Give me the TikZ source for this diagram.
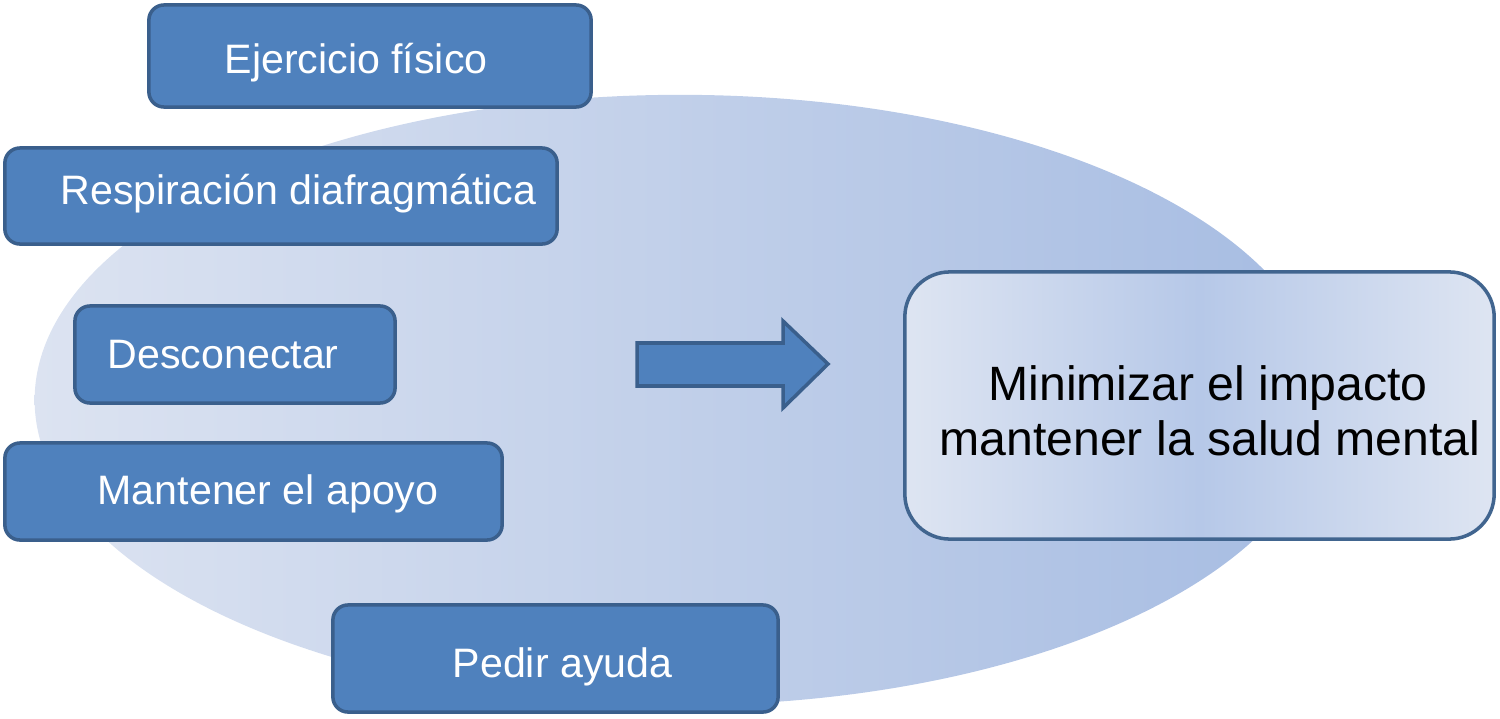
\documentclass[tikz,border=0pt]{standalone}
\usepackage{fontspec}
\setmainfont{Liberation Sans}
\definecolor{boxfill}{HTML}{4F81BD}
\definecolor{boxline}{HTML}{3A5F8C}
\definecolor{elleft}{HTML}{DCE3F1}
\definecolor{elright}{HTML}{A6BCE2}
\definecolor{bigline}{HTML}{41658F}
\definecolor{bigedge}{HTML}{DEE5F2}
\definecolor{bigmid}{HTML}{B6C8E8}
\tikzset{
  bluebox/.style={draw=boxline, line width=1pt, fill=boxfill, rounded corners=4.3pt, inner sep=0pt},
  boxtext/.style={text=white, font=\fontsize{11.7pt}{14pt}\selectfont, inner sep=0pt, anchor=base west},
  bigtext/.style={text=black, font=\fontsize{13.7pt}{15.65pt}\selectfont, inner sep=0pt, anchor=base},
  arrowshape/.style={draw=boxline, line width=1pt, fill=boxfill, line join=miter}
}
\begin{document}
\begin{tikzpicture}[x=0.01cm, y=-0.01cm]
\useasboundingbox (0,0) rectangle (1500,718);
% background ellipse
\shade[left color=elleft, right color=elright] (680,400) ellipse [x radius=6.45cm, y radius=3.05cm];
% boxes
\node[bluebox, minimum width=4.42cm, minimum height=1.02cm] (b1) at (370,56) {};
\node[bluebox, minimum width=5.52cm, minimum height=0.96cm] (b2) at (281,196) {};
\node[bluebox, minimum width=3.20cm, minimum height=0.97cm] (b3) at (235,354.5) {};
\node[bluebox, minimum width=4.97cm, minimum height=0.97cm] (b4) at (253.5,491.5) {};
\node[bluebox, minimum width=4.45cm, minimum height=1.07cm] (b5) at (555.5,658.5) {};
\node[boxtext] (t1) at (224,73) {Ejercicio físico};
\node[boxtext] (t2) at (60,204) {Respiración diafragmática};
\node[boxtext] (t3) at (107,368) {Desconectar};
\node[boxtext] (t4) at (97,504) {Mantener el apoyo};
\node[boxtext] (t5) at (452,677) {Pedir ayuda};
% arrow
\draw[arrowshape] (637,343) -- (783,343) -- (783,321) -- (828,364) -- (783,408) -- (783,386) -- (637,386) -- cycle;
% result box
\node[draw=bigline, line width=1pt, rounded corners=12.8pt, left color=bigedge, right color=bigedge, middle color=bigmid, minimum width=5.89cm, minimum height=2.67cm] (res) at (1199.5,405.5) {};
\node[bigtext] (r1) at (1208,400) {Minimizar el impacto};
\node[bigtext] (r2) at (1210,455) {mantener la salud mental};
\end{tikzpicture}
\end{document}
